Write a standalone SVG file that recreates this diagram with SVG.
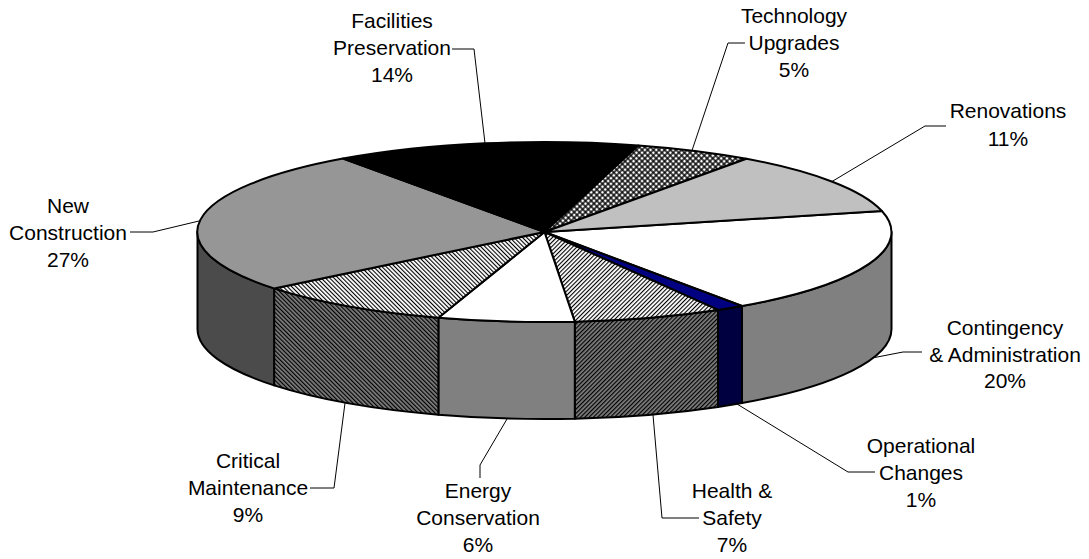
<svg xmlns="http://www.w3.org/2000/svg" width="1089" height="559" viewBox="0 0 1089 559">
<defs>
<style>
.s{stroke:#000;stroke-width:2;stroke-linejoin:round}
.t{font-family:"Liberation Sans",Arial,sans-serif;font-size:21px;fill:#000;text-anchor:middle}
.l{fill:none;stroke:#000;stroke-width:1}
</style>
<pattern id="upW" width="3" height="3" patternUnits="userSpaceOnUse" patternTransform="rotate(45)"><rect width="3" height="3" fill="#fff"/><rect width="1.1" height="3" fill="#000"/></pattern>
<pattern id="upG" width="3" height="3" patternUnits="userSpaceOnUse" patternTransform="rotate(45)"><rect width="3" height="3" fill="#808080"/><rect width="1.2" height="3" fill="#000"/></pattern>
<pattern id="dnW" width="3" height="3" patternUnits="userSpaceOnUse" patternTransform="rotate(-45)"><rect width="3" height="3" fill="#fff"/><rect width="1.1" height="3" fill="#000"/></pattern>
<pattern id="dnG" width="3" height="3" patternUnits="userSpaceOnUse" patternTransform="rotate(-45)"><rect width="3" height="3" fill="#808080"/><rect width="1.2" height="3" fill="#000"/></pattern>
<pattern id="tech" width="4" height="4" patternUnits="userSpaceOnUse" patternTransform="rotate(45)"><rect width="4" height="4" fill="#000"/><rect x="0.7" y="0.7" width="2.6" height="2.6" fill="#fff"/></pattern>
</defs>
<rect width="1089" height="559" fill="#fff"/>

<g id="contingency">
<path class="s" fill="#808080" d="M891.5,232 A347,90 0 0 1 742,306 L742,403 A347,90 0 0 0 891.5,329 Z"/>
<path class="s" fill="#fff" d="M544.5,232 L881.9,211 A347,90 0 0 1 742,306 Z"/>
<text class="t" x="1005" y="335">Contingency</text>
<text class="t" x="1005" y="362">&amp; Administration</text>
<text class="t" x="1005" y="388">20%</text>
</g>
<g id="operational">
<path class="s" fill="#000040" d="M742,306 A347,90 0 0 1 718,309.9 L718,406.9 A347,90 0 0 0 742,403 Z"/>
<path class="s" fill="#000080" d="M544.5,232 L742,306 A347,90 0 0 1 718,309.9 Z"/>
<text class="t" x="921" y="453">Operational</text>
<text class="t" x="921" y="480">Changes</text>
<text class="t" x="921" y="507">1%</text>
</g>
<g id="health">
<path class="s" fill="url(#upG)" d="M718,309.9 A347,90 0 0 1 574.8,321.7 L574.8,418.7 A347,90 0 0 0 718,406.9 Z"/>
<path class="s" fill="url(#upW)" d="M544.5,232 L718,309.9 A347,90 0 0 1 574.8,321.7 Z"/>
<text class="t" x="732" y="498">Health &amp;</text>
<text class="t" x="732" y="525">Safety</text>
<text class="t" x="732" y="552">7%</text>
</g>
<g id="energy">
<path class="s" fill="#808080" d="M574.8,321.7 A347,90 0 0 1 438.4,317.7 L438.4,414.7 A347,90 0 0 0 574.8,418.7 Z"/>
<path class="s" fill="#fff" d="M544.5,232 L574.8,321.7 A347,90 0 0 1 438.4,317.7 Z"/>
<text class="t" x="478" y="498">Energy</text>
<text class="t" x="478" y="525">Conservation</text>
<text class="t" x="478" y="552">6%</text>
</g>
<g id="critical">
<path class="s" fill="url(#dnG)" d="M438.4,317.7 A347,90 0 0 1 274.1,288.4 L274.1,385.4 A347,90 0 0 0 438.4,414.7 Z"/>
<path class="s" fill="url(#dnW)" d="M544.5,232 L438.4,317.7 A347,90 0 0 1 274.1,288.4 Z"/>
<text class="t" x="248" y="468">Critical</text>
<text class="t" x="248" y="495">Maintenance</text>
<text class="t" x="248" y="522">9%</text>
</g>
<g id="newconstruction">
<path class="s" fill="#4b4b4b" d="M274.1,288.4 A347,90 0 0 1 197.5,232 L197.5,329 A347,90 0 0 0 274.1,385.4 Z"/>
<path class="s" fill="#969696" d="M544.5,232 L274.1,288.4 A347,90 0 0 1 343,158.6 Z"/>
<text class="t" x="68" y="213">New</text>
<text class="t" x="68" y="240">Construction</text>
<text class="t" x="68" y="267">27%</text>
</g>
<g id="facilities">
<path class="s" fill="#000" d="M544.5,232 L343,158.6 A347,90 0 0 1 638.4,145.4 Z"/>
<text class="t" x="392" y="28">Facilities</text>
<text class="t" x="392" y="55">Preservation</text>
<text class="t" x="392" y="82">14%</text>
</g>
<g id="technology">
<path class="s" fill="url(#tech)" d="M544.5,232 L638.4,145.4 A347,90 0 0 1 746.5,158.8 Z"/>
<text class="t" x="794" y="23">Technology</text>
<text class="t" x="794" y="50">Upgrades</text>
<text class="t" x="794" y="77">5%</text>
</g>
<g id="renovations">
<path class="s" fill="#c0c0c0" d="M544.5,232 L746.5,158.8 A347,90 0 0 1 881.9,211 Z"/>
<text class="t" x="1008" y="118">Renovations</text>
<text class="t" x="1008" y="146">11%</text>
</g>

<g id="connectors">
<polyline class="l" points="452,49 474,49 485,143.3"/>
<polyline class="l" points="745,43 728,43 692,150.5"/>
<polyline class="l" points="946,126 925,126 832,181.5"/>
<polyline class="l" points="922,352 903,352 872,358"/>
<polyline class="l" points="737,404 848,472 875,472"/>
<polyline class="l" points="653,415 662,518 699,518"/>
<polyline class="l" points="507,419 480,465 480,478"/>
<polyline class="l" points="345,403 334,488 310,488"/>
<polyline class="l" points="130,232 153,232 200.3,220.7"/>
</g>
</svg>
